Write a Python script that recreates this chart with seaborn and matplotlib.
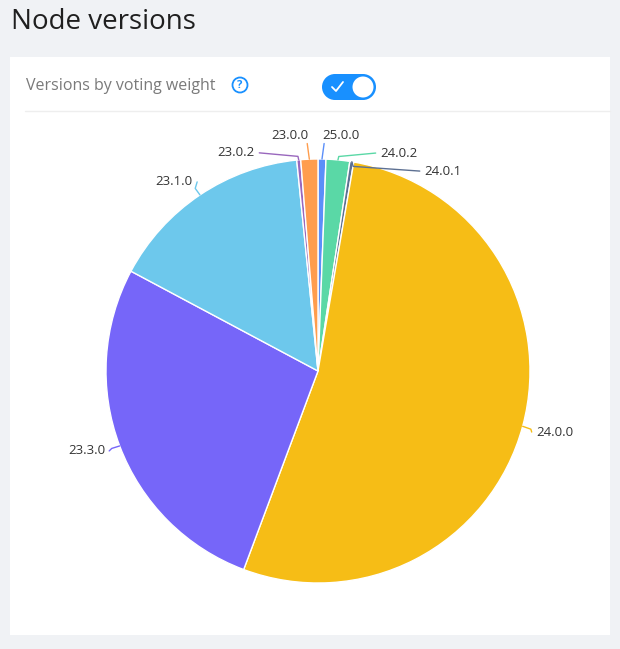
import numpy as np
import matplotlib
matplotlib.use("Agg")
import matplotlib.pyplot as plt
import seaborn as sns
from matplotlib.patches import Circle, Rectangle

sns.set_theme(style="white")
plt.rcParams['font.family'] = ['Open Sans', 'DejaVu Sans']

versions = ["25.0.0", "24.0.2", "24.0.1", "24.0.0", "23.3.0", "23.1.0", "23.0.2", "23.0.0"]
weights = [0.6, 1.8, 0.3, 53.0, 27.1, 15.6, 0.3, 1.3]
colors = ["#5B8FF9", "#5AD8A6", "#5D7092", "#F6BD16", "#7666F9", "#6DC8EC", "#9967BD", "#FF9D4D"]
# label text anchor positions (data units, pie radius = 1), alignment, vertical leader
label_pos = [(0.019, 1.113), (0.292, 1.028), (0.50, 0.943), (1.028, -0.288),
             (-1.005, -0.377), (-0.59, 0.892), (-0.297, 1.029), (-0.047, 1.113)]
label_ha = ["left", "left", "left", "left", "right", "right", "right", "right"]
vertical = [True, False, False, False, False, False, False, True]

W, H = 620, 649
fig = plt.figure(figsize=(W/100, H/100), dpi=100)
fig.patch.set_facecolor("#F0F2F5")
bg = fig.add_axes([0, 0, 1, 1]); bg.set_xlim(0, W); bg.set_ylim(H, 0); bg.axis("off")
bg.add_patch(Rectangle((10, 57), 600, 578, facecolor="white", edgecolor="none"))
bg.text(11, 22, "Node versions", fontsize=20, color="#1f1f1f", va="center")
bg.text(26, 86, "Versions by voting weight", fontsize=11.5, color="#7a7a7a", va="center")
bg.add_patch(Circle((240, 85), 7.5, fill=False, edgecolor="#1890FF", lw=1.3))
bg.text(240, 85.5, "?", fontsize=8, color="#1890FF", ha="center", va="center", fontweight="bold")
bg.add_patch(Rectangle((335, 74), 28, 26, facecolor="#1890FF", edgecolor="none"))
bg.add_patch(Circle((335, 87), 13, facecolor="#1890FF", edgecolor="none"))
bg.add_patch(Circle((363, 87), 13, facecolor="#1890FF", edgecolor="none"))
bg.add_patch(Circle((363, 87), 10.5, facecolor="white", edgecolor="none"))
bg.plot([332, 336, 343], [87, 91, 82], color="white", lw=1.3)
bg.plot([25, 610], [111, 111], color="#eeeeee", lw=1)

cx, cy, r = 318, 371, 212
ax = fig.add_axes([(cx-r)/W, (H-cy-r)/H, 2*r/W, 2*r/H])
wedges, _ = ax.pie(weights, colors=colors, startangle=90, counterclock=False,
                   wedgeprops=dict(edgecolor="white", linewidth=1))
ax.set_xlim(-1, 1); ax.set_ylim(-1, 1); ax.set_aspect("auto")
for w, lab, col, (tx, ty), ha, vert in zip(wedges, versions, colors, label_pos, label_ha, vertical):
    a = np.deg2rad((w.theta1 + w.theta2) / 2)
    x0, y0 = np.cos(a), np.sin(a)
    if vert:
        xs, ys = [x0, x0 + (0.01 if ha == "left" else -0.01)], [y0, ty - 0.04]
    else:
        ex = tx + (0.02 if ha == "right" else -0.02)
        ey = y0 * 1.04 if abs(ty - y0) > 0.08 else (y0 + ty) / 2
        xs, ys = [x0, x0 * 1.04, ex], [y0, ey, ty]
    ax.plot(xs, ys, color=col, lw=1, clip_on=False)
    ax.text(tx, ty, lab, fontsize=9.5, color="#333333", va="center", ha=ha)
fig.savefig("out.png", dpi=100, facecolor=fig.get_facecolor())
